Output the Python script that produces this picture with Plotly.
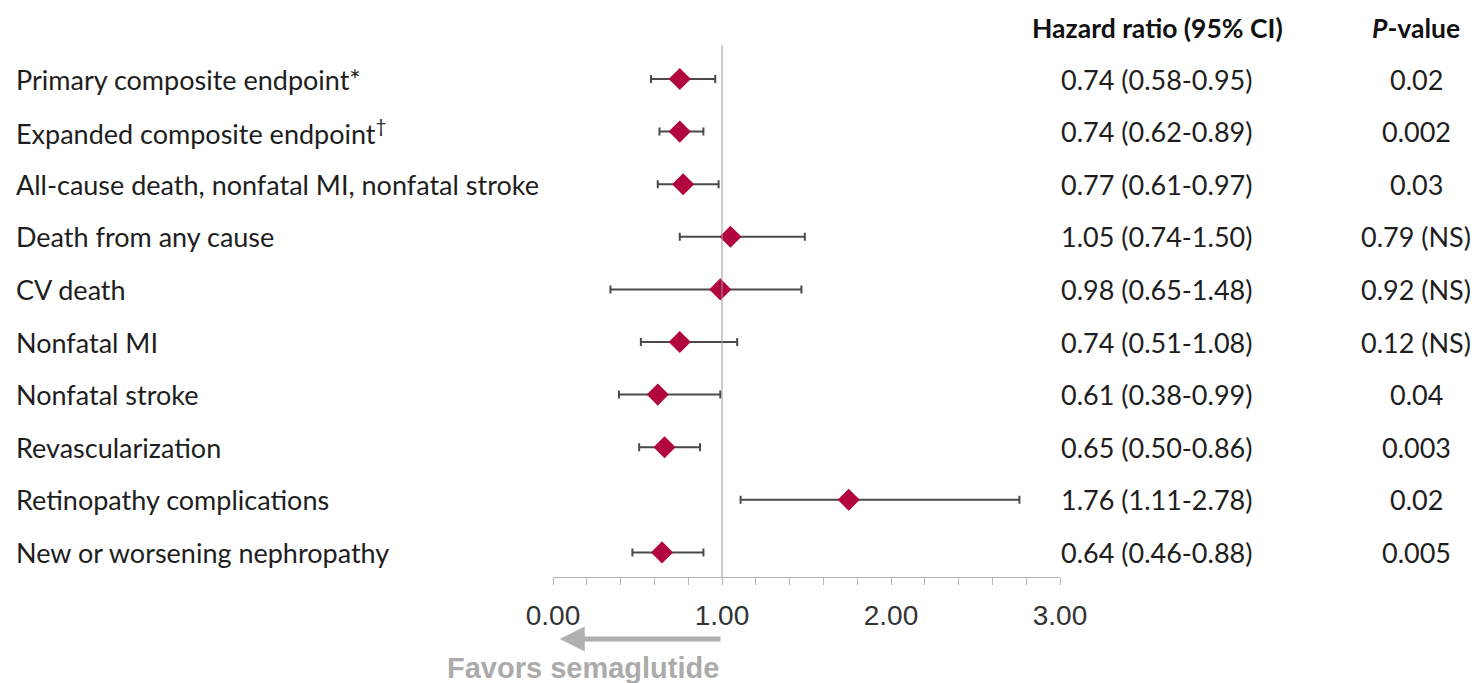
import plotly.graph_objects as go

# ---- data ----
endpoints = [
    "Primary composite endpoint*",
    "Expanded composite endpoint<sup>†</sup>",
    "All-cause death, nonfatal MI, nonfatal stroke",
    "Death from any cause",
    "CV death",
    "Nonfatal MI",
    "Nonfatal stroke",
    "Revascularization",
    "Retinopathy complications",
    "New or worsening nephropathy",
]
hr = [0.75, 0.75, 0.77, 1.05, 0.99, 0.75, 0.62, 0.66, 1.75, 0.645]
ci_low = [0.58, 0.63, 0.62, 0.75, 0.34, 0.52, 0.39, 0.51, 1.11, 0.47]
ci_high = [0.96, 0.89, 0.98, 1.49, 1.47, 1.09, 0.99, 0.87, 2.76, 0.89]
hr_text = [
    "0.74 (0.58-0.95)", "0.74 (0.62-0.89)", "0.77 (0.61-0.97)", "1.05 (0.74-1.50)",
    "0.98 (0.65-1.48)", "0.74 (0.51-1.08)", "0.61 (0.38-0.99)", "0.65 (0.50-0.86)",
    "1.76 (1.11-2.78)", "0.64 (0.46-0.88)",
]
p_text = ["0.02", "0.002", "0.03", "0.79 (NS)", "0.92 (NS)", "0.12 (NS)",
          "0.04", "0.003", "0.02", "0.005"]
x_ticks = [0, 1, 2, 3]
x_tick_labels = ["0.00", "1.00", "2.00", "3.00"]

W, H = 1475, 683
rows = list(range(len(endpoints)))

fig = go.Figure()
fig.add_trace(go.Scatter(
    x=hr, y=rows, mode="markers",
    marker=dict(symbol="diamond", size=17, color="#B2073D", line=dict(width=0)),
    error_x=dict(type="data", symmetric=False,
                 array=[h - v for v, h in zip(hr, ci_high)],
                 arrayminus=[v - l for v, l in zip(hr, ci_low)],
                 color="#4a4a4a", thickness=2, width=4),
    cliponaxis=False, showlegend=False, hoverinfo="skip",
))

label_font = dict(family="Lato, Carlito, Calibri, sans-serif", size=27, color="#1e1e1e")
anns = []
for i, name in enumerate(endpoints):
    anns.append(dict(x=14 / W, xref="paper", y=i, yref="y", text=name,
                     xanchor="left", yanchor="middle", showarrow=False, font=label_font))
    anns.append(dict(x=1156 / W, xref="paper", y=i, yref="y", text=hr_text[i],
                     xanchor="center", yanchor="middle", showarrow=False, font=label_font))
    anns.append(dict(x=1416 / W, xref="paper", y=i, yref="y", text=p_text[i],
                     xanchor="center", yanchor="middle", showarrow=False, font=label_font))

hdr_font = dict(family="Lato, Carlito, Calibri, sans-serif", size=26.5, color="#111111")
anns.append(dict(x=1157 / W, xref="paper", y=1 - 28 / H, yref="paper",
                 text="<b>Hazard ratio (95% CI)</b>", xanchor="center", yanchor="middle",
                 showarrow=False, font=hdr_font))
anns.append(dict(x=1416 / W, xref="paper", y=1 - 28 / H, yref="paper",
                 text="<b><i>P</i>-value</b>", xanchor="center", yanchor="middle",
                 showarrow=False, font=hdr_font))

# arrow
anns.append(dict(x=0.04, xref="x", y=1 - 639 / H, yref="paper",
                 ax=1.0, axref="x", ay=0, ayref="pixel",
                 text="", showarrow=True, arrowhead=2, arrowsize=1, arrowwidth=5,
                 arrowcolor="#b0b0b0"))
anns.append(dict(x=583 / W, xref="paper", y=1 - 668 / H, yref="paper",
                 text="<b>Favors semaglutide</b>", xanchor="center", yanchor="middle",
                 showarrow=False,
                 font=dict(family="Liberation Sans, Arial, sans-serif", size=29, color="#ababab")))

row_top_px, row_step = 79, 52.6
ax_bottom_px, ax_top_px = 577, 45
y_bottom = (ax_bottom_px - row_top_px) / row_step
y_top = (ax_top_px - row_top_px) / row_step

fig.update_layout(
    width=W, height=H, margin=dict(l=0, r=0, t=0, b=0, autoexpand=False),
    paper_bgcolor="white", plot_bgcolor="white",
    xaxis=dict(domain=[553 / W, 1060 / W], range=[0, 3], automargin=False,
               tickvals=x_ticks, ticktext=x_tick_labels, ticklabelstandoff=6,
               showline=True, linecolor="#b5b5b5", linewidth=1,
               ticks="outside", ticklen=7, tickcolor="#b5b5b5", tickwidth=1,
               minor=dict(dtick=0.2, ticks="outside", ticklen=7, tickcolor="#b5b5b5", tickwidth=1),
               showgrid=False, zeroline=False,
               tickfont=dict(family="Liberation Sans, Arial, sans-serif", size=28, color="#333333")),
    yaxis=dict(domain=[1 - ax_bottom_px / H, 1 - ax_top_px / H], range=[y_bottom, y_top],
               visible=False, showgrid=False, zeroline=False, automargin=False),
    annotations=anns,
    shapes=[dict(type="line", xref="x", x0=1, x1=1, yref="y domain", y0=0, y1=1,
                 line=dict(color="#9a9a9a", width=1))],
)

fig.write_html("out.html")
